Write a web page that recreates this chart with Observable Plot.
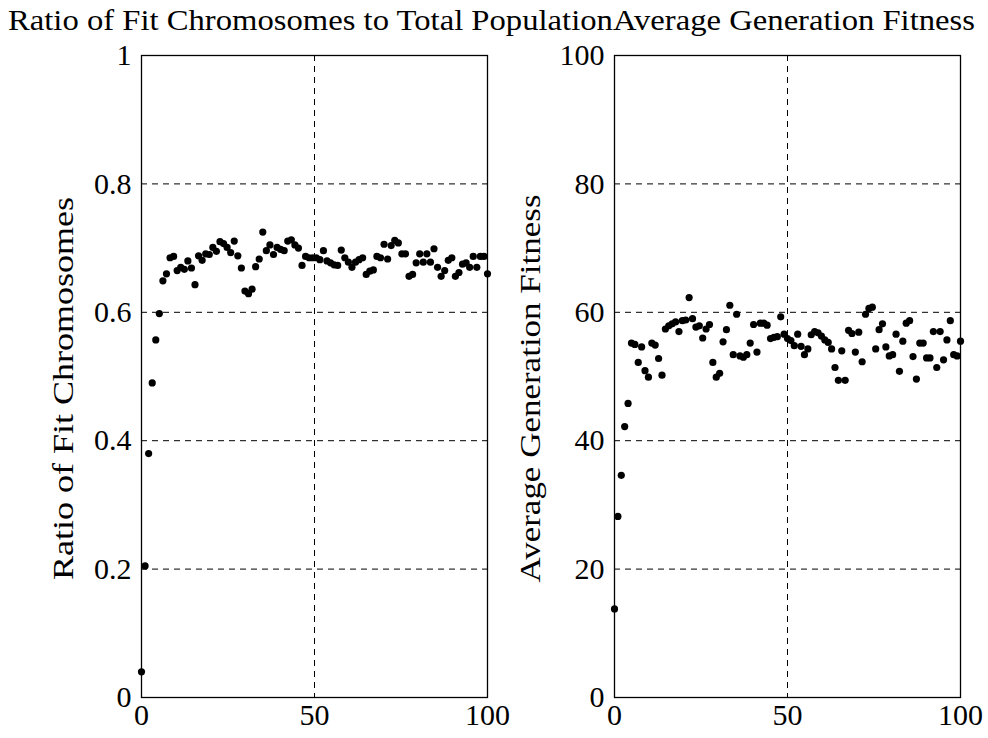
<!DOCTYPE html>
<html>
<head>
<meta charset="utf-8">
<script src="https://cdn.jsdelivr.net/npm/d3@7"></script>
<script src="https://cdn.jsdelivr.net/npm/@observablehq/plot@0.6"></script>
<style>
  body { margin: 0; background: #fff; }
  #wrap { position: relative; width: 988px; height: 738px; font-family: "Liberation Serif", serif; color: #000; overflow: hidden; }
  #title { position: absolute; top: 3px; left: 8px; font-size: 29px; line-height: 34px; white-space: nowrap; transform-origin: 0 0; }
  #plots { position: absolute; top: 40px; left: 0; width: 988px; height: 698px; }
  #plots svg { position: absolute; top: 0; background: transparent; }
</style>
</head>
<body>
<div id="wrap">
  <div id="title"><span id="t1"></span><span id="t2"></span></div>
  <div id="plots"></div>
</div>
<script>
// ---- data ----
const leftTitle = "Ratio of Fit Chromosomes to Total Population";
const rightTitle = "Average Generation Fitness";
const leftYLabel = "Ratio of Fit Chromosomes";
const rightYLabel = "Average Generation Fitness";
const xTicks = [0, 50, 100];
const ratioTicks = [0, 0.2, 0.4, 0.6, 0.8, 1];
const fitnessTicks = [0, 20, 40, 60, 80, 100];

// ratio of fit chromosomes, generation by generation (left panel)
const ratioValues = [
  0.040, 0.205, 0.380, 0.490, 0.557,
  0.598, 0.649, 0.660, 0.685, 0.687, 0.665, 0.670, 0.667, 0.680, 0.669,
  0.643, 0.688, 0.681, 0.691, 0.690, 0.701, 0.695, 0.710, 0.707, 0.701,
  0.693, 0.711, 0.688, 0.669, 0.633, 0.629, 0.636, 0.671, 0.683, 0.725,
  0.696, 0.705, 0.690, 0.701, 0.698, 0.696, 0.711, 0.713, 0.705, 0.700,
  0.673, 0.687, 0.685, 0.685, 0.685,
  0.682, 0.696, 0.680, 0.677, 0.674, 0.673, 0.697, 0.685, 0.678, 0.670,
  0.678, 0.682, 0.685, 0.659, 0.664, 0.666, 0.687, 0.685, 0.706, 0.683,
  0.704, 0.712, 0.708, 0.691, 0.691, 0.656, 0.659, 0.677, 0.691, 0.678,
  0.691, 0.678, 0.699, 0.670, 0.656, 0.665, 0.681, 0.685, 0.656, 0.662,
  0.675, 0.677, 0.670, 0.687, 0.670, 0.687, 0.687, 0.660
];

// average generation fitness (right panel)
const fitnessValues = [
  13.8, 28.2, 34.6, 42.2, 45.8, 55.2, 55.0, 52.2, 54.6, 50.9,
  49.9, 55.2, 54.9, 52.8, 50.2, 57.4, 57.9, 58.2, 58.5, 57.0,
  58.7, 58.8, 62.3, 59.0, 57.7, 57.9, 56.0, 57.4, 58.1, 52.2,
  49.9, 50.5, 55.4, 57.3, 61.1, 53.4, 59.7, 53.2, 53.0, 53.4,
  55.2, 58.1, 53.8, 58.3, 58.3, 58.0, 55.9, 56.1, 56.2, 59.3,
  56.6, 55.9, 55.6, 54.8, 56.6, 54.7, 53.4, 54.3, 56.5, 57.0,
  56.8, 56.3, 55.7, 55.3, 54.3, 51.4, 49.4, 54.0, 49.4, 57.2,
  56.7, 53.8, 56.9, 52.3, 59.7, 60.6, 60.8, 54.3, 57.3, 58.2,
  54.6, 53.2, 53.4, 56.6, 50.8, 55.5, 58.3, 58.7, 53.1, 49.6,
  55.2, 55.2, 52.9, 52.9, 57.0, 51.4, 57.0, 52.6, 55.7, 58.7,
  53.4, 53.2, 55.5
];

// generations sampled evenly across 0..100
const toRows = vals => vals.map((v, i) => ({generation: i * 100 / (vals.length - 1), value: v}));
const ratioRows = toRows(ratioValues);
const fitnessRows = toRows(fitnessValues);

const FONT = "'Liberation Serif', 'Times New Roman', serif";
const FS = 30;
const dash = "6,5";

function panel({rows, yDomain, yTicks, yLabel, labelLength, marginLeft, marginRight, width, labelDx}) {
  const svg = Plot.plot({
    width, height: 698,
    marginLeft, marginRight, marginTop: 15, marginBottom: 41,
    style: {fontFamily: FONT, fontSize: FS + "px", background: "transparent", color: "#000", overflow: "visible"},
    x: {domain: [0, 100]},
    y: {domain: yDomain},
    marks: [
      Plot.gridY(yTicks.slice(1, -1), {stroke: "#000", strokeOpacity: 1, strokeDasharray: dash}),
      Plot.gridX([50], {stroke: "#000", strokeOpacity: 1, strokeDasharray: dash}),
      Plot.frame({stroke: "#000", strokeWidth: 1.3}),
      Plot.axisX(xTicks, {tickSize: 0, tickPadding: 6, label: null, fontSize: FS}),
      Plot.axisY(yTicks, {tickSize: 0, tickPadding: 10, label: null, tickFormat: d => String(d), fontSize: FS}),
      Plot.text([yLabel], {frameAnchor: "left", textAnchor: "middle", dx: labelDx, dy: 12, rotate: -90, fontSize: FS}),
      Plot.dot(rows, {x: "generation", y: "value", r: 3.6, fill: "#000", stroke: "none"})
    ]
  });
  // the reference label is drawn wider than the font's natural width
  d3.select(svg).selectAll("text")
    .filter(function () { return this.textContent === yLabel; })
    .attr("textLength", labelLength)
    .attr("lengthAdjust", "spacingAndGlyphs");
  return svg;
}

const left = panel({rows: ratioRows, yDomain: [0, 1], yTicks: ratioTicks, yLabel: leftYLabel, labelLength: 383,
  marginLeft: 141, marginRight: 7, width: 494, labelDx: -78});
const right = panel({rows: fitnessRows, yDomain: [0, 100], yTicks: fitnessTicks, yLabel: rightYLabel, labelLength: 388,
  marginLeft: 120, marginRight: 28, width: 494, labelDx: -84});
left.style.left = "0px";
right.style.left = "494px";
document.getElementById("plots").append(left, right);

// title line: both titles run together, as in the reference
document.getElementById("t1").textContent = leftTitle;
document.getElementById("t2").textContent = rightTitle;
const title = document.getElementById("title");
const nat = title.getBoundingClientRect().width;
title.style.transform = `scaleX(${967 / nat})`;
</script>
</body>
</html>
